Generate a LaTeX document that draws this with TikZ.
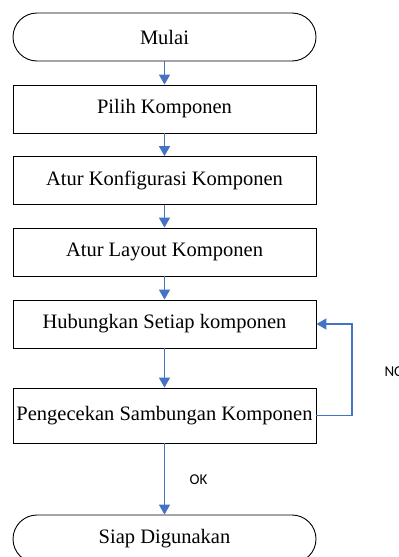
\documentclass[tikz,border=0pt]{standalone}
\usepackage{fontspec}
\setmainfont{Liberation Serif}
\newfontfamily\labelfont{Carlito}
\usetikzlibrary{arrows.meta, calc}
\definecolor{flowblue}{HTML}{4472C4}

\begin{document}
\begin{tikzpicture}[x=1pt,y=-1pt,
>={Triangle[width=11pt,length=10pt]},
flow/.style={->,flowblue,line width=1.6pt},
proc/.style={draw,black,line width=0.9pt,minimum width=303pt,minimum height=48pt,
  inner sep=0pt,font=\fontsize{20.5}{24}\selectfont},
term/.style={proc,rounded corners=24pt},
lbl/.style={font=\labelfont\fontsize{15}{18}\selectfont}]

  \useasboundingbox (0,0) rectangle (399,557);
  \clip (0,0) rectangle (399,557);

  % steps
  \node [term] (mulai)   at (164.5,37)  {Mulai};
  \node [proc] (pilih)   at (164.5,109) {Pilih Komponen};
  \node [proc] (konfig)  at (164.5,180.5) {Atur Konfigurasi Komponen};
  \node [proc] (layout)  at (164.5,252) {Atur Layout Komponen};
  \node [proc] (hubung)  at (164.5,324) {Hubungkan Setiap komponen};
  \node [proc,minimum height=55pt] (cek) at (164.5,415.5) {Pengecekan Sambungan Komponen};
  \node [term] (siap)    at (164.5,539) {Siap Digunakan};

  % loop back
  \coordinate (loopr) at (352,324);

  % connectors
  \draw [flow] (mulai)  -- (pilih);
  \draw [flow] (pilih)  -- (konfig);
  \draw [flow] (konfig) -- (layout);
  \draw [flow] (layout) -- (hubung);
  \draw [flow] (hubung) -- (cek);
  \draw [flow] (cek)    -- (siap);
  \draw [flow] (cek.east) -| (loopr) -- (hubung.east);

  % labels
  \node [lbl,anchor=west] (no) at (381,372) {NO};
  \node [lbl] (ok) at (198.5,480) {OK};
\end{tikzpicture}
\end{document}
